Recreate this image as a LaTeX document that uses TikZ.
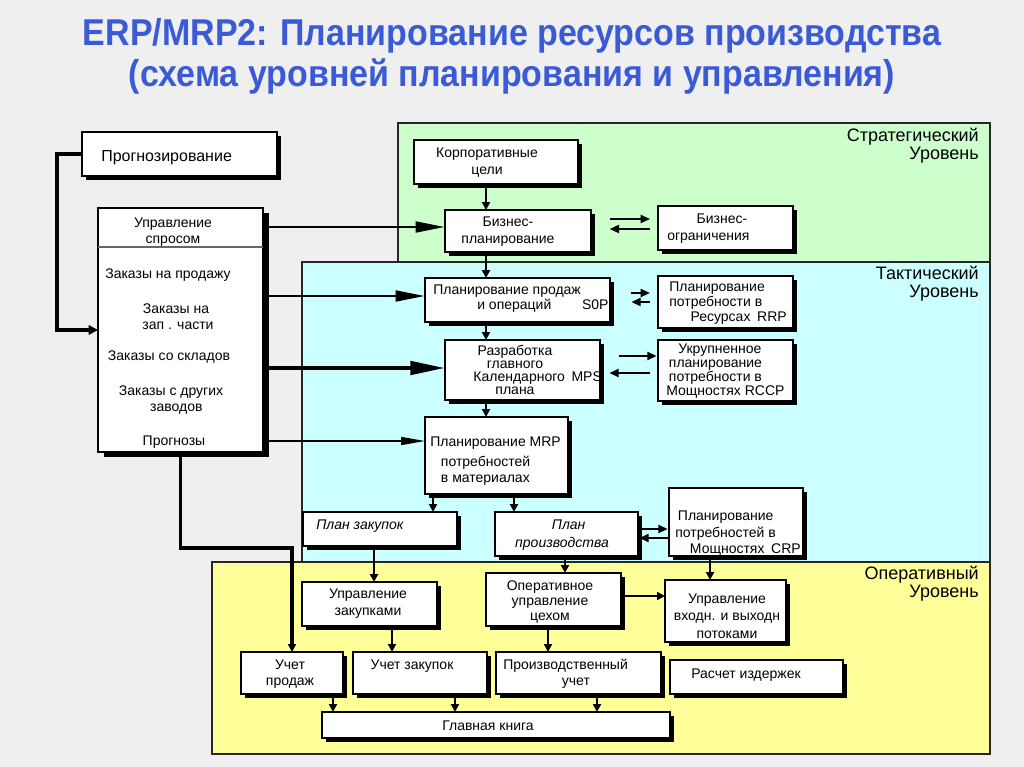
\documentclass[tikz,border=0pt]{standalone}
\usepackage{fontspec}
\usepackage{graphicx}
\setmainfont{Liberation Sans}
\usetikzlibrary{arrows.meta,fit,shadows}
\definecolor{bgc}{RGB}{239,239,239}
\definecolor{strat}{RGB}{204,255,204}
\definecolor{takt}{RGB}{204,255,255}
\definecolor{oper}{RGB}{255,255,153}
\definecolor{titleblue}{RGB}{58,90,214}
\tikzset{
  box/.style={draw=black, line width=1.5pt, fill=white, inner sep=0pt, outer sep=0pt,
    drop shadow={shadow xshift=3pt, shadow yshift=-3pt, fill=black, opacity=1}},
  widebox/.style={draw=black, line width=1.5pt, fill=white, inner sep=0pt, outer sep=0pt,
    drop shadow={shadow xshift=4.5pt, shadow yshift=-3.5pt, fill=black, opacity=1}},
  txt/.style={font=\fontsize{10.5}{12.75}\selectfont, inner sep=0pt, align=center, yshift=-1.5pt},
  conn/.style={line width=1.5pt, -{Triangle[length=6pt,width=6pt]}},
  big/.style={line width=2.2pt, -{Triangle[length=22pt,width=8pt]}},
  pair/.style={line width=1.5pt, -{Triangle[length=7pt,width=6pt]}},
  feed/.style={line width=2.2pt, -{Triangle[length=6pt,width=6pt]}},
  regline/.style={draw=black!85, line width=1.2pt},
  lvl/.style={font=\fontsize{13.5}{13.5}\selectfont, inner sep=0pt, align=right, anchor=north east},
  ttl/.style={font=\fontsize{28}{30}\selectfont\bfseries, text=titleblue, inner sep=0pt},
}
\begin{document}
\begin{tikzpicture}[x=0.75pt,y=-0.75pt]
\fill[bgc] (0,0) rectangle (1024,767);
\useasboundingbox (0,0) rectangle (1024,767);

% title
\node[ttl] (t1) at (512,36) {\scalebox{0.91}[1]{ERP/MRP2: Планирование ресурсов производства}};
\node[ttl] (t2) at (512,76) {\scalebox{0.91}[1]{(схема уровней планирования и управления)}};

% regions
\draw[regline, fill=strat] (398,123) rectangle (990,262);
\draw[regline, fill=takt] (302,262) rectangle (990,562);
\draw[regline, fill=oper] (212,562) rectangle (990,754);
\node[lvl] (l1) at (979,128) {Стратегический\\Уровень};
\node[lvl] (l2) at (979,266) {Тактический\\Уровень};
\node[lvl] (l3) at (979,566) {Оперативный\\Уровень};

% boxes
\node[box, fit={(82,132) (277,176)}] (prog) {};
\node[widebox, fit={(98,208) (263,452)}] (upr) {};
\node[box, fit={(414,140) (578,184)}] (korp) {};
\node[box, fit={(445,210) (591,252)}] (biz) {};
\node[box, fit={(658,206) (793,250)}] (bogr) {};
\node[box, fit={(425,278) (610,322)}] (sop) {};
\node[box, fit={(658,276) (793,328)}] (rrp) {};
\node[box, fit={(445,340) (600,400)}] (mps) {};
\node[box, fit={(658,340) (793,401)}] (rccp) {};
\node[box, fit={(425,417) (568,494)}] (mrp) {};
\node[box, fit={(303,512) (457,546)}] (pz) {};
\node[box, fit={(495,512) (638,556)}] (pp) {};
\node[box, fit={(669,488) (803,556)}] (crp) {};
\node[box, fit={(302,582) (437,626)}] (uz) {};
\node[box, fit={(486,573) (621,626)}] (opu) {};
\node[box, fit={(665,580) (786,642)}] (uvv) {};
\node[box, fit={(241,652) (343,694)}] (up) {};
\node[box, fit={(353,652) (487,694)}] (uzak) {};
\node[box, fit={(496,652) (661,694)}] (pu) {};
\node[box, fit={(670,660) (843,694)}] (ri) {};
\node[box, fit={(322,712) (670,738)}] (gk) {};

% texts
\node[txt, anchor=west, font=\fontsize{12}{14}\selectfont] (prog-t) at (101,156) {Прогнозирование};
\draw[black!60, line width=0.8pt] (upr.west |- 0,247) -- (upr.east |- 0,247);
\node[txt, font=\fontsize{10.5}{12}\selectfont] (upr-t1) at (173,230) {Управление\\спросом};
\node[txt] (upr-t2) at (168,273) {Заказы на продажу};
\node[txt, font=\fontsize{10.5}{12}\selectfont] (upr-t3) at (176,315) {Заказы на\\\hspace*{3pt}зап . части};
\node[txt] (upr-t4) at (169,355) {Заказы со складов};
\node[txt, font=\fontsize{10.5}{12}\selectfont] (upr-t5) at (171,398) {Заказы с других\\\hspace*{8pt}заводов};
\node[txt] (upr-t6) at (174,440) {Прогнозы};

\node[txt] (korp-t) at (487,161) {Корпоративные\\цели};
\node[txt] (biz-t) at (508,230) {Бизнес-\\планирование};
\node[txt, align=left, anchor=west] (bogr-t) at (667,227) {\hspace*{22pt}Бизнес-\\ограничения};
\node[txt, align=left, anchor=west, font=\fontsize{10.5}{11.25}\selectfont] (sop-t) at (433,297) {Планирование продаж\\\hspace*{33pt}и операций\hspace{23pt}S0P};
\node[txt, align=left, anchor=west, font=\fontsize{10.5}{11}\selectfont] (rrp-t) at (669,301) {Планирование\\потребности в\\\hspace*{16pt}Ресурсах\hspace{5pt}RRP};
\node[txt, font=\fontsize{10.5}{9.9}\selectfont] (mps-t) at (515,368) {Разработка\\главного\\\hspace*{34pt}Календарного\hspace{5pt}MPS\\плана};
\node[txt, align=left, anchor=west, font=\fontsize{10.5}{10.5}\selectfont] (rccp-t) at (666,369) {\hspace*{9pt}Укрупненное\\\hspace*{2pt}планирование\\\hspace*{2pt}потребности в\\Мощностях RCCP};
\node[txt, align=left, anchor=west, font=\fontsize{10.5}{12}\selectfont] (mrp-t) at (430,459) {Планирование MRP\\[3pt]\hspace*{8pt}потребностей\\\hspace*{8pt}в материалах};
\node[txt, anchor=west, font=\itshape\fontsize{10.5}{12}\selectfont] (pz-t) at (316,524) {План закупок};
\node[txt, font=\itshape\fontsize{10.5}{13.5}\selectfont] (pp-t) at (562,533) {\hspace*{10pt}План\\производства};
\node[txt, align=left, anchor=west, font=\fontsize{10.5}{12.4}\selectfont] (crp-t) at (675,532) {\hspace*{2pt}Планирование\\потребностей в\\\hspace*{11pt}Мощностях\hspace{5pt}CRP};
\node[txt] (uz-t) at (368,602) {Управление\\закупками};
\node[txt, font=\fontsize{10.5}{11}\selectfont] (opu-t) at (550,600) {Оперативное\\управление\\цехом};
\node[txt, font=\fontsize{10.5}{13}\selectfont] (uvv-t) at (727,614) {Управление\\входн. и выходн\\потоками};
\node[txt, font=\fontsize{10.5}{12}\selectfont] (up-t) at (290,672) {Учет\\продаж};
\node[txt] (uzak-t) at (412,664) {Учет закупок};
\node[txt, align=left, anchor=west, font=\fontsize{10.5}{12}\selectfont] (pu-t) at (503,672) {Производственный\\\hspace*{44pt}учет};
\node[txt] (ri-t) at (746,673) {Расчет издержек};
\node[txt] (gk-t) at (488,724) {Главная книга};

% connectors: demand management
\draw[feed, line width=2.4pt, -{Triangle[length=7pt,width=7pt]}] (prog.west) -- ++(-25,0) |- (upr.west);
\draw[big] (upr.east |- 0,227) -- (biz.west |- 0,227);
\draw[big] (upr.east |- 0,296) -- (sop.west |- 0,296);
\draw[big, line width=3pt, -{Triangle[length=26pt,width=10pt]}] (upr.east |- 0,368) -- (mps.west |- 0,368);
\draw[big, line width=1.2pt, -{Triangle[length=18pt,width=6pt]}] (upr.east |- 0,441) -- (mrp.west |- 0,441);
\draw[feed, line width=2.4pt] (upr.south) -- ++(0,96) -| (up.north);

% vertical chain
\draw[conn] (korp.south -| 486,0) -- (biz.north -| 486,0);
\draw[conn] (biz.south -| 486,0) -- (sop.north -| 486,0);
\draw[conn] (sop.south -| 486,0) -- (mps.north -| 486,0);
\draw[conn] (mps.south -| 486,0) -- (mrp.north -| 486,0);
\draw[conn] (mrp.south -| 433,0) -- (pz.north -| 433,0);
\draw[conn] (mrp.south -| 514,0) -- (pp.north -| 514,0);
\draw[conn] (pz.south -| 374,0) -- (uz.north -| 374,0);
\draw[conn] (pp.south -| 565,0) -- (opu.north -| 565,0);
\draw[conn] (crp.south -| 710,0) -- (uvv.north -| 710,0);
\draw[conn] (opu.east |- 0,596) -- (uvv.west |- 0,596);
\draw[conn] (uz.south -| 392,0) -- (uzak.north -| 392,0);
\draw[conn] (opu.south -| 548,0) -- (pu.north -| 548,0);
\draw[conn] (up.south -| 333,0) -- (gk.north -| 333,0);
\draw[conn] (uzak.south -| 455,0) -- (gk.north -| 455,0);
\draw[conn] (pu.south -| 597,0) -- (gk.north -| 597,0);

% paired arrows
\draw[pair, shorten <=14pt, shorten >=6pt] (biz.east |- 0,219) -- (bogr.west |- 0,219);
\draw[pair, shorten <=6pt, shorten >=14pt] (bogr.west |- 0,229) -- (biz.east |- 0,229);
\draw[pair, shorten <=16pt, shorten >=6pt] (sop.east |- 0,293) -- (rrp.west |- 0,293);
\draw[pair, shorten <=6pt, shorten >=16pt] (rrp.west |- 0,302) -- (sop.east |- 0,302);
\draw[pair, shorten <=14pt, shorten >=1pt] (mps.east |- 0,356) -- (rccp.west |- 0,356);
\draw[pair, shorten <=6pt, shorten >=7pt] (rccp.west |- 0,373) -- (mps.east |- 0,373);
\draw[pair, shorten <=0pt, shorten >=1pt] (pp.east |- 0,529) -- (crp.west |- 0,529);
\draw[pair, shorten <=1pt, shorten >=1pt] (crp.west |- 0,538) -- (pp.east |- 0,538);
\end{tikzpicture}
\end{document}
